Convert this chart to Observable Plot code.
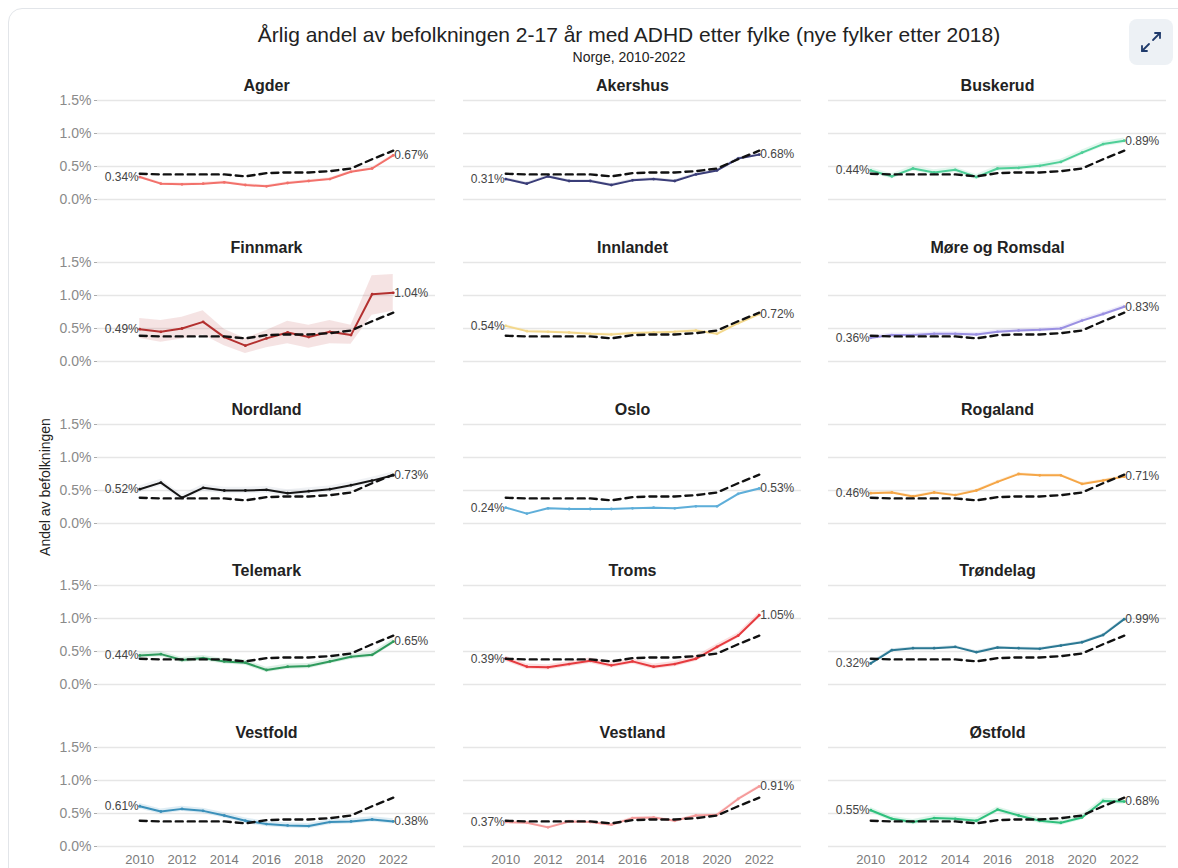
<!DOCTYPE html>
<html><head><meta charset="utf-8">
<script src="https://cdn.jsdelivr.net/npm/d3@7"></script>
<script src="https://cdn.jsdelivr.net/npm/@observablehq/plot@0.6"></script>
<style>
html,body{margin:0;padding:0;background:#fff;}
#root{position:relative;width:1178px;height:868px;overflow:hidden;font-family:"Liberation Sans",Arial,sans-serif;background:#fff;}
#card{position:absolute;left:8px;top:8px;width:1200px;height:900px;border:1px solid #e2e5e9;border-radius:14px;box-sizing:border-box;}
#title{position:absolute;left:0;width:1258px;top:24px;text-align:center;font-size:21px;color:#222;transform:scaleY(0.92);}
#subtitle{position:absolute;left:0;width:1258px;top:49px;text-align:center;font-size:14px;color:#222;}
#ytitle{position:absolute;left:45px;top:487px;transform:translate(-50%,-50%) rotate(-90deg);font-size:14px;color:#222;white-space:nowrap;}
#expand{position:absolute;left:1129px;top:19px;width:44px;height:46px;border-radius:8px;background:#edf1f5;}
.panel{position:absolute;}
</style></head>
<body><div id="root">
<div id="card"></div>
<div id="title">Årlig andel av befolkningen 2-17 år med ADHD etter fylke (nye fylker etter 2018)</div>
<div id="subtitle">Norge, 2010-2022</div>
<div id="ytitle">Andel av befolkningen</div>
<div id="expand"><svg width="44" height="46" viewBox="0 0 44 46"><g fill="none" stroke="#1f3a6b" stroke-width="1.8" stroke-linecap="round" stroke-linejoin="round"><path d="M24 21 L31 14"/><path d="M26 14 L31 14 L31 19"/><path d="M13 32 L20 25"/><path d="M13 27 L13 32 L18 32"/></g></svg></div>
</div>
<script>
// ---------- DATA ----------
const years = [2010,2011,2012,2013,2014,2015,2016,2017,2018,2019,2020,2021,2022];
const national = [0.39,0.38,0.38,0.38,0.38,0.35,0.40,0.41,0.41,0.43,0.47,0.61,0.74];

const counties = ["Agder","Akershus","Buskerud","Finnmark","Innlandet","Møre og Romsdal","Nordland","Oslo","Rogaland","Telemark","Troms","Trøndelag","Vestfold","Vestland","Østfold"];
const countyColors = ["#f2716b","#3a3d78","#4fcf98","#b3302f","#f3d88c","#9a90e2","#151515","#5eaed9","#f5a647","#2f9b5d","#e63b3f","#2b7893","#3b90ba","#f59b9b","#2fc07d"];
const bandColors = ["#f2716b","#3a3d78","#4fcf98","#c0504f","#f3d88c","#9a90e2","#9fb0c0","#5eaed9","#f5a647","#2f9b5d","#e63b3f","#2b7893","#3b90ba","#f59b9b","#2fc07d"];

const agder     = [0.34,0.24,0.23,0.24,0.26,0.22,0.20,0.25,0.28,0.31,0.42,0.47,0.67];
const akershus  = [0.31,0.24,0.35,0.28,0.28,0.22,0.29,0.31,0.28,0.38,0.44,0.62,0.68];
const buskerud  = [0.44,0.35,0.47,0.41,0.45,0.34,0.47,0.48,0.51,0.57,0.71,0.84,0.89];
const finnmark  = [0.49,0.45,0.50,0.60,0.37,0.24,0.35,0.44,0.37,0.45,0.40,1.02,1.04];
const innlandet = [0.54,0.46,0.45,0.44,0.42,0.41,0.43,0.44,0.45,0.47,0.42,0.58,0.72];
const moreRomsdal = [0.36,0.40,0.40,0.42,0.42,0.41,0.45,0.47,0.48,0.50,0.62,0.72,0.83];
const nordland  = [0.52,0.62,0.39,0.54,0.50,0.50,0.51,0.46,0.49,0.52,0.58,0.65,0.73];
const oslo      = [0.24,0.15,0.23,0.22,0.22,0.22,0.23,0.24,0.23,0.26,0.26,0.45,0.53];
const rogaland  = [0.46,0.47,0.41,0.47,0.43,0.50,0.63,0.75,0.73,0.73,0.60,0.65,0.71];
const telemark  = [0.44,0.46,0.37,0.40,0.35,0.33,0.22,0.27,0.28,0.35,0.42,0.45,0.65];
const troms     = [0.39,0.27,0.26,0.31,0.36,0.29,0.35,0.27,0.31,0.39,0.57,0.74,1.05];
const trondelag = [0.32,0.52,0.55,0.55,0.57,0.49,0.56,0.55,0.54,0.59,0.64,0.75,0.99];
const vestfold  = [0.61,0.53,0.57,0.54,0.47,0.39,0.34,0.32,0.31,0.37,0.38,0.41,0.38];
const vestland  = [0.37,0.36,0.29,0.38,0.37,0.33,0.43,0.44,0.39,0.47,0.48,0.72,0.91];
const ostfold   = [0.55,0.42,0.37,0.43,0.42,0.39,0.56,0.47,0.39,0.36,0.44,0.69,0.68];

// confidence band: per-county half width; Finnmark read explicitly
const ciHalfWidth = [0.02,0.02,0.04,0,0.02,0.03,0.05,0.01,0.02,0.04,0.04,0.02,0.04,0.02,0.04];
const finnmarkLow  = [0.35,0.29,0.34,0.40,0.24,0.12,0.21,0.27,0.20,0.27,0.26,0.70,0.76];
const finnmarkHigh = [0.65,0.62,0.67,0.77,0.49,0.35,0.47,0.61,0.55,0.62,0.55,1.30,1.32];

const yTicks = [0, 0.5, 1.0, 1.5];
const xTicks = [2010,2012,2014,2016,2018,2020,2022];

const seriesList = [agder,akershus,buskerud,finnmark,innlandet,moreRomsdal,nordland,oslo,rogaland,telemark,troms,trondelag,vestfold,vestland,ostfold];

// ---------- LAYOUT ----------
const colPlotLeft = [97, 463, 828];
const rowTop = [99.5, 261.5, 423.5, 585, 747];
const plotW = 338, plotH = 99;
const ML = 70, MR = 20, MT = 32, MB = 26;
const FONT = '"Liberation Sans", Arial, sans-serif';
const fmt = v => v.toFixed(2) + "%";

const root = document.getElementById("root");

counties.forEach((name, i) => {
  const c = i % 3, r = Math.floor(i / 3);
  const vals = seriesList[i];
  const color = countyColors[i];
  const rows = years.map((yr, k) => ({
    year: yr, v: vals[k], nat: national[k],
    lo: name === "Finnmark" ? finnmarkLow[k] : vals[k] - ciHalfWidth[i],
    hi: name === "Finnmark" ? finnmarkHigh[k] : vals[k] + ciHalfWidth[i]
  }));
  const isLeft = c === 0, isBottom = r === 4;
  const svg = Plot.plot({
    width: ML + plotW + MR, height: MT + plotH + MB,
    marginLeft: ML, marginRight: MR, marginTop: MT, marginBottom: MB,
    style: {background: "transparent", overflow: "visible", fontFamily: FONT},
    x: {domain: [2008, 2024], axis: null, label: null},
    y: {domain: [0, 1.5], axis: null, label: null},
    marks: [
      Plot.ruleY(yTicks, {stroke: "#e6e6e6", strokeWidth: 1.4}),
      isLeft ? Plot.axisY(yTicks, {tickFormat: d => d.toFixed(1) + "%", tickSize: 3, tickPadding: 3, stroke: "#aaa", fill: "#8a8a8a", fontSize: 14, label: null}) : null,
      isBottom ? Plot.axisX(xTicks, {tickFormat: d => String(d), tickSize: 0, tickPadding: 8, fill: "#7a7a7a", fontSize: 13, label: null}) : null,
      Plot.areaY(rows, {x: "year", y1: "lo", y2: "hi", fill: bandColors[i], fillOpacity: 0.16}),
      Plot.line(rows, {x: "year", y: "v", stroke: color, strokeWidth: 2}),
      Plot.dot(rows, {x: "year", y: "v", r: 1.4, fill: color}),
      Plot.line(rows, {x: "year", y: "nat", stroke: "#111", strokeWidth: 2.4, strokeDasharray: "7,5"}),
      Plot.text([rows[0]], {x: "year", y: "v", text: d => fmt(d.v), textAnchor: "end", dx: -1, fill: "#444", fontSize: 12}),
      Plot.text([rows[rows.length - 1]], {x: "year", y: "v", text: d => fmt(d.v), textAnchor: "start", dx: 1, fill: "#444", fontSize: 12}),
      Plot.text([name], {frameAnchor: "top", lineAnchor: "middle", dy: -15, text: d => d, fontWeight: "bold", fontSize: 16, fill: "#222"})
    ]
  });
  const div = document.createElement("div");
  div.className = "panel";
  div.style.left = (colPlotLeft[c] - ML) + "px";
  div.style.top = (rowTop[r] - MT) + "px";
  div.style.width = (ML + plotW + MR) + "px";
  div.appendChild(svg);
  root.appendChild(div);
});
</script>
</body></html>
